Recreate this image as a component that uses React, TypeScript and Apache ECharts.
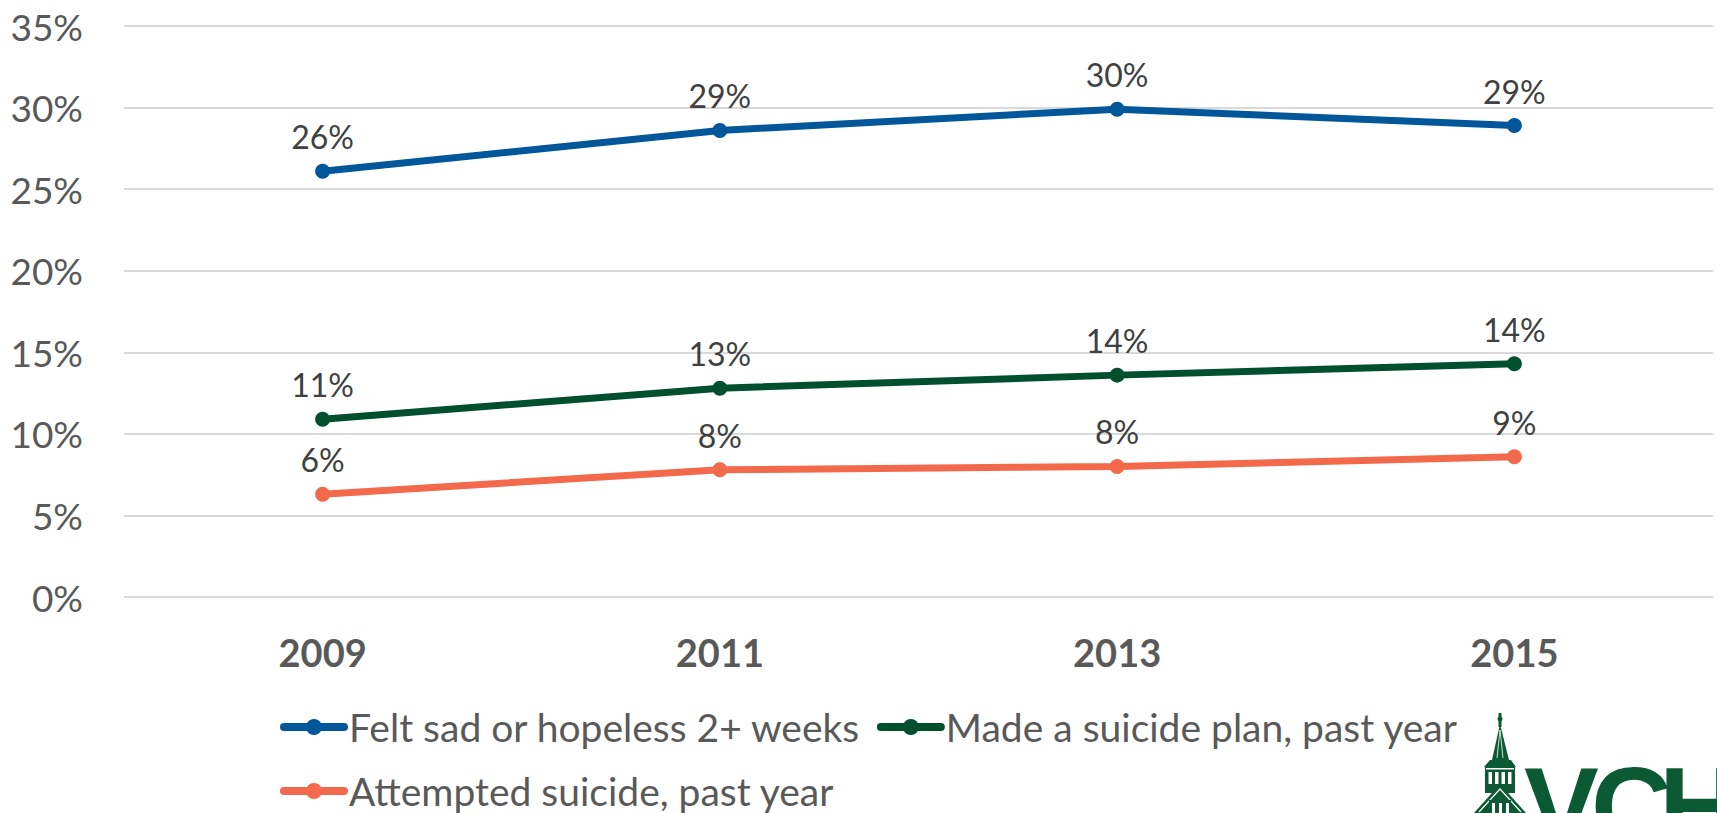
import React, { useEffect, useRef } from "react";
import * as echarts from "echarts";

// Survey years and share of students (percent) for each indicator
const years = ["2009", "2011", "2013", "2015"];
const feltSad = [26.1, 28.6, 29.9, 28.9];
const suicidePlan = [10.9, 12.8, 13.6, 14.3];
const attemptedSuicide = [6.3, 7.8, 8.0, 8.6];

const seriesNames = [
  "Felt sad or hopeless 2+ weeks",
  "Made a suicide plan, past year",
  "Attempted suicide, past year",
];
const seriesColors = ["#02579B", "#00502F", "#F26A4B"];

const yTicks = { min: 0, max: 35, interval: 5 };

const FONT = "Lato, 'Open Sans', sans-serif";
const LOGO_GREEN = "#0B5A33";

function lineSeries(name: string, data: number[], color: string) {
  return {
    name,
    type: "line",
    data,
    symbol: "circle",
    symbolSize: 15,
    lineStyle: { width: 7, color },
    itemStyle: { color },
    label: {
      show: true,
      position: "top",
      distance: 11,
      fontSize: 32,
      fontFamily: FONT,
      color: "#404040",
      formatter: (p: any) => `${Math.round(p.value)}%`,
    },
  };
}

// Bell tower and lettering in the lower right corner
function logoGraphics() {
  const g = LOGO_GREEN;
  const white = "#ffffff";
  const els: any[] = [
    // finial
    { type: "rect", shape: { x: 1498.5, y: 713, width: 3, height: 14 }, style: { fill: g } },
    { type: "circle", shape: { cx: 1500, cy: 719, r: 2.5 }, style: { fill: g } },
    // spire
    { type: "polygon", shape: { points: [[1500, 724], [1492, 760], [1509, 760]] }, style: { fill: g } },
    { type: "line", shape: { x1: 1500, y1: 730, x2: 1497, y2: 758 }, style: { stroke: white, lineWidth: 0.8 } },
    { type: "line", shape: { x1: 1500, y1: 730, x2: 1503, y2: 758 }, style: { stroke: white, lineWidth: 0.8 } },
    // flared cornice
    { type: "polygon", shape: { points: [[1490, 760], [1511, 760], [1516, 767], [1484, 767]] }, style: { fill: g } },
    // belfry
    { type: "rect", shape: { x: 1485, y: 767, width: 30, height: 26 }, style: { fill: g } },
    { type: "rect", shape: { x: 1486, y: 768, width: 28, height: 1.5 }, style: { fill: white } },
    // gable roof
    { type: "polygon", shape: { points: [[1500, 784], [1474, 813], [1526, 813]] }, style: { fill: g } },
    { type: "polyline", shape: { points: [[1479, 812], [1500, 789], [1521, 812]] }, style: { stroke: white, lineWidth: 1.2, fill: "none" } },
    { type: "rect", shape: { x: 1489, y: 800, width: 22, height: 13 }, style: { fill: g } },
  ];
  // belfry windows
  [1488.5, 1495, 1501.5, 1508].forEach((x) => {
    els.push({ type: "rect", shape: { x, y: 772, width: 3.5, height: 12 }, style: { fill: white } });
  });
  [1492, 1499, 1506].forEach((x) => {
    els.push({ type: "rect", shape: { x, y: 803, width: 3, height: 10 }, style: { fill: white } });
  });
  // lettering, running off the bottom edge
  const letters = [
    { t: "V", x: 1524 },
    { t: "C", x: 1591 },
    { t: "H", x: 1659 },
  ];
  letters.forEach((l) => {
    els.push({
      type: "text",
      x: l.x,
      y: 806,
      style: {
        text: l.t,
        fill: g,
        font: "bold 112px 'Liberation Sans', Arial, sans-serif",
        textAlign: "left",
        textVerticalAlign: "middle",
      },
    });
  });
  return els;
}

export default function App() {
  const ref = useRef<HTMLDivElement>(null);

  useEffect(() => {
    document.body.style.margin = "0";
    if (!ref.current) return;
    const chart = echarts.init(ref.current, undefined, { renderer: "svg" });
    chart.setOption({
      animation: false,
      backgroundColor: "#ffffff",
      grid: { left: 124, right: 4, top: 26, bottom: 216, containLabel: false },
      xAxis: {
        type: "category",
        data: years,
        boundaryGap: true,
        axisLine: { show: false },
        axisTick: { show: false },
        axisLabel: {
          margin: 36,
          fontSize: 38,
          fontWeight: "bold",
          fontFamily: FONT,
          color: "#595959",
        },
      },
      yAxis: {
        type: "value",
        min: yTicks.min,
        max: yTicks.max,
        interval: yTicks.interval,
        axisLine: { show: false },
        axisTick: { show: false },
        splitLine: { lineStyle: { color: "#D9D9D9", width: 2 } },
        axisLabel: {
          margin: 41,
          fontSize: 37,
          fontFamily: FONT,
          color: "#595959",
          formatter: "{value}%",
        },
      },
      legend: {
        data: seriesNames,
        left: 275,
        top: 698,
        width: 1250,
        itemWidth: 60,
        itemHeight: 20,
        itemGap: 16,
        lineStyle: { width: 8, cap: "round" },
        textStyle: {
          fontSize: 39,
          fontFamily: FONT,
          color: "#595959",
          lineHeight: 48,
        },
      },
      series: [
        lineSeries(seriesNames[0], feltSad, seriesColors[0]),
        lineSeries(seriesNames[1], suicidePlan, seriesColors[1]),
        lineSeries(seriesNames[2], attemptedSuicide, seriesColors[2]),
      ],
      graphic: logoGraphics(),
    });
    return () => chart.dispose();
  }, []);

  return <div ref={ref} style={{ width: 1717, height: 813 }} />;
}
